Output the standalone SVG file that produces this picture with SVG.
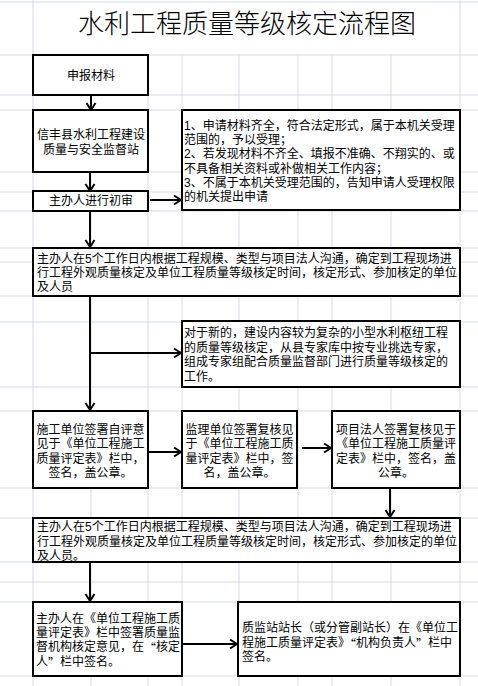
<svg xmlns="http://www.w3.org/2000/svg" width="478" height="686" viewBox="0 0 478 686">
<style>
.grid line{stroke:#d3d9e8;stroke-width:1}
.box{fill:#fff;stroke:#000;stroke-width:2}
.t{font-family:"Liberation Sans","Noto Sans CJK SC",sans-serif;font-size:12px;fill:#000;dominant-baseline:central}
.q{font-family:"Noto Sans CJK SC",sans-serif}
.c{text-anchor:middle}
.title{font-family:"Noto Sans CJK SC","Noto Sans",sans-serif;font-size:26px;font-weight:300;fill:#000;text-anchor:middle;dominant-baseline:central}
.conn line{stroke:#000;stroke-width:2;fill:none}
</style>
<defs>
<marker id="arr" markerUnits="userSpaceOnUse" markerWidth="12" markerHeight="12" viewBox="0 0 12 12" refX="10" refY="6" orient="auto">
<path d="M3,1.5 L10,6 L3,10.5" fill="none" stroke="#000" stroke-width="2"/>
</marker>
</defs>
<rect x="0" y="0" width="478" height="686" fill="#fff"/>
<g class="grid">
<line x1="0" y1="2" x2="478" y2="2"/>
<line x1="0" y1="55" x2="478" y2="55"/>
<line x1="0" y1="95" x2="478" y2="95"/>
<line x1="0" y1="110" x2="478" y2="110"/>
<line x1="0" y1="172" x2="478" y2="172"/>
<line x1="0" y1="192" x2="478" y2="192"/>
<line x1="0" y1="211" x2="478" y2="211"/>
<line x1="0" y1="248" x2="478" y2="248"/>
<line x1="0" y1="262" x2="478" y2="262"/>
<line x1="0" y1="296" x2="478" y2="296"/>
<line x1="0" y1="322" x2="478" y2="322"/>
<line x1="0" y1="387" x2="478" y2="387"/>
<line x1="0" y1="411" x2="478" y2="411"/>
<line x1="0" y1="488" x2="478" y2="488"/>
<line x1="0" y1="518" x2="478" y2="518"/>
<line x1="0" y1="562" x2="478" y2="562"/>
<line x1="0" y1="582" x2="478" y2="582"/>
<line x1="0" y1="602" x2="478" y2="602"/>
<line x1="0" y1="676" x2="478" y2="676"/>
<line x1="33" y1="0" x2="33" y2="686"/>
<line x1="460" y1="0" x2="460" y2="686"/>
<line x1="91" y1="55" x2="91" y2="686"/>
<line x1="148" y1="55" x2="148" y2="686"/>
<line x1="182" y1="55" x2="182" y2="686"/>
<line x1="239" y1="55" x2="239" y2="686"/>
<line x1="298" y1="55" x2="298" y2="686"/>
<line x1="332" y1="55" x2="332" y2="686"/>
<line x1="391" y1="55" x2="391" y2="686"/>
</g>
<rect x="34" y="3" width="425" height="51" fill="#fff"/>
<text class="title" x="247" y="21">水利工程质量等级核定流程图</text>

<g id="conns" class="conn">
<line x1="91" y1="96" x2="91" y2="110" marker-end="url(#arr)"/>
<line x1="90" y1="173" x2="90" y2="191" marker-end="url(#arr)"/>
<line x1="150" y1="200" x2="181" y2="200" marker-end="url(#arr)"/>
<line x1="90" y1="212" x2="90" y2="247" marker-end="url(#arr)"/>
<line x1="90" y1="297" x2="90" y2="410" marker-end="url(#arr)"/>
<line x1="91" y1="353" x2="181" y2="353" marker-end="url(#arr)"/>
<line x1="149" y1="452" x2="181" y2="452" marker-end="url(#arr)"/>
<line x1="302" y1="448" x2="331" y2="448" marker-end="url(#arr)"/>
<line x1="390" y1="489" x2="390" y2="517" marker-end="url(#arr)"/>
<line x1="90" y1="563" x2="90" y2="601" marker-end="url(#arr)"/>
<line x1="183" y1="644" x2="237" y2="644" marker-end="url(#arr)"/>
</g>

<g id="n1">
<rect class="box" x="33" y="55" width="115" height="40"/>
<text class="t c" x="91" y="76">申报材料</text>
</g>
<g id="n2">
<rect class="box" x="33" y="110" width="115" height="62"/>
<text class="t c" x="91" y="135"><tspan x="91" y="135">信丰县水利工程建设</tspan><tspan x="91" y="150">质量与安全监督站</tspan></text>
</g>
<g id="n3">
<rect class="box" x="33" y="191" width="115" height="20"/>
<text class="t c" x="91" y="201">主办人进行初审</text>
</g>
<g id="n4">
<rect class="box" x="182" y="110" width="278" height="100"/>
<text class="t" x="184" y="126"><tspan x="184" y="126">1、申请材料齐全，符合法定形式，属于本机关受理</tspan><tspan x="184" y="140.2">范围的，予以受理；</tspan><tspan x="184" y="154.4">2、若发现材料不齐全、填报不准确、不翔实的、或</tspan><tspan x="184" y="168.6">不具备相关资料或补做相关工作内容；</tspan><tspan x="184" y="182.8">3、不属于本机关受理范围的，告知申请人受理权限</tspan><tspan x="184" y="197">的机关提出申请</tspan></text>
</g>
<g id="n5">
<rect class="box" x="33" y="248" width="427" height="48"/>
<text class="t" x="37" y="258.5"><tspan x="37" y="258.5">主办人在5个工作日内根据工程规模、类型与项目法人沟通，确定到工程现场进</tspan><tspan x="37" y="272.8">行工程外观质量核定及单位工程质量等级核定时间，核定形式、参加核定的单位</tspan><tspan x="37" y="287">及人员</tspan></text>
</g>
<g id="n6">
<rect class="box" x="182" y="321" width="278" height="66"/>
<text class="t" x="184" y="333"><tspan x="184" y="333">对于新的，建设内容较为复杂的小型水利枢纽工程</tspan><tspan x="184" y="347.5">的质量等级核定，从县专家库中按专业挑选专家，</tspan><tspan x="184" y="362">组成专家组配合质量监督部门进行质量等级核定的</tspan><tspan x="184" y="376.5">工作。</tspan></text>
</g>
<g id="n7">
<rect class="box" x="33" y="411" width="115" height="77"/>
<text class="t c" x="90.5" y="430"><tspan x="90.5" y="430">施工单位签署自评意</tspan><tspan x="90.5" y="444.3">见于《单位工程施工</tspan><tspan x="90.5" y="458.6">质量评定表》栏中，</tspan><tspan x="90.5" y="473">签名，盖公章。</tspan></text>
</g>
<g id="n8">
<rect class="box" x="182" y="411" width="115" height="77"/>
<text class="t c" x="239.5" y="430"><tspan x="239.5" y="430">监理单位签署复核见</tspan><tspan x="239.5" y="444.3">于《单位工程施工质</tspan><tspan x="239.5" y="458.6">量评定表》栏中，签</tspan><tspan x="239.5" y="473">名，盖公章。</tspan></text>
</g>
<g id="n9">
<rect class="box" x="332" y="411" width="128" height="77"/>
<text class="t c" x="396" y="430"><tspan x="396" y="430">项目法人签署复核见于</tspan><tspan x="396" y="444.3">《单位工程施工质量评</tspan><tspan x="396" y="458.6">定表》栏中，签名，盖</tspan><tspan x="396" y="473">公章。</tspan></text>
</g>
<g id="n10">
<rect class="box" x="33" y="518" width="427" height="44"/>
<text class="t" x="37" y="527"><tspan x="37" y="527">主办人在5个工作日内根据工程规模、类型与项目法人沟通，确定到工程现场进</tspan><tspan x="37" y="541.5">行工程外观质量核定及单位工程质量等级核定时间，核定形式、参加核定的单位</tspan><tspan x="37" y="555.5">及人员。</tspan></text>
</g>
<g id="n11">
<rect class="box" x="33" y="602" width="149" height="74"/>
<text class="t" x="36" y="619"><tspan x="36" y="619">主办人在《单位工程施工质</tspan><tspan x="36" y="633">量评定表》栏中签署质量监</tspan><tspan x="36" y="647">督机构核定意见，在<tspan class="q">“</tspan>核定</tspan><tspan x="36" y="661.5">人<tspan class="q">”</tspan>栏中签名。</tspan></text>
</g>
<g id="n12">
<rect class="box" x="238" y="602" width="222" height="74"/>
<text class="t" x="242" y="628"><tspan x="242" y="628">质监站站长（或分管副站长）在《单位工</tspan><tspan x="242" y="642.5">程施工质量评定表》<tspan class="q">“</tspan>机构负责人<tspan class="q">”</tspan>栏中</tspan><tspan x="242" y="657">签名。</tspan></text>
</g>
</svg>
